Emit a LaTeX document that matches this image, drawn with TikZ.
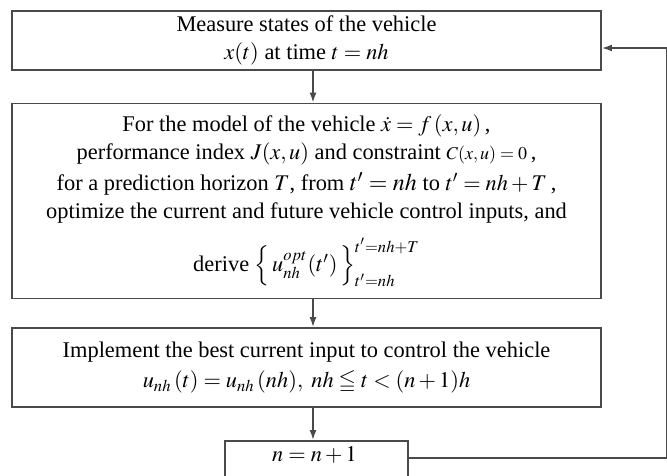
\documentclass[tikz,border=0pt]{standalone}
\usepackage{mathptmx}
\usepackage{amssymb}
\usepackage[no-math]{fontspec}
\setmainfont{Liberation Serif}
\usetikzlibrary{arrows.meta,calc}
\definecolor{linec}{HTML}{4A4A4A}
\begin{document}
\begin{tikzpicture}[x=0.5pt,y=-0.5pt,
  flowbox/.style={draw=linec, line width=0.9pt, inner sep=0pt, align=center,
    font=\fontsize{11.2}{14}\selectfont, minimum width=294.5pt},
  conn/.style={draw=linec, line width=0.8pt, -{Latex[length=5pt,width=3.5pt]}},
  plainline/.style={draw=linec, line width=0.8pt}]
\useasboundingbox (0,0) rectangle (667,475);
\node[flowbox, minimum height=29.5pt] (box1) at (306.5,40.5)
  {Measure states of the vehicle\\ $x(t)$ at time $t=nh$};
\node[flowbox, minimum height=97.5pt] (box2) at (306.5,201)
  {For the model of the vehicle $\dot{x}=f\,(x,u)$\,,\\
   performance index $J(x,u)$ and constraint {\small$C(x,u)=0$}\,,\\[1.5pt]
   for a prediction horizon $T$, from {\large$t'=nh$} to $t'=nh+T$\,,\\
   optimize the current and future vehicle control inputs, and\\[6.5pt]
   derive\ $\Big\{\,u^{opt}_{nh}(t')\,\Big\}^{t'=nh+T}_{t'=nh}$};
\node[flowbox, minimum height=39.5pt] (box3) at (306.5,367.5)
  {Implement the best current input to control the vehicle\\[1pt]
   $u_{nh}\,(t)=u_{nh}\,(nh),\ nh\leqq t<(n+1)h$};
\node[flowbox, minimum width=91.5pt, minimum height=30pt, anchor=north] (box4) at (316.5,440) {};
\node[font=\fontsize{11.2}{14}\selectfont, inner sep=0pt] (n1) at (314.5,455) {$n=n+1$};
\coordinate (ax) at (313,0);
\coordinate (rc) at (667,458);
\coordinate (rt) at (667,48);
\draw[conn] (box1.south -| ax) -- (box2.north -| ax);
\draw[conn] (box2.south -| ax) -- (box3.north -| ax);
\draw[conn] (box3.south -| ax) -- (box4.north -| ax);
\draw[plainline] (box4.east |- rc) -- (rc) -- (rt);
\draw[conn] (rt) -- (box1.east |- rt);
\end{tikzpicture}
\end{document}
